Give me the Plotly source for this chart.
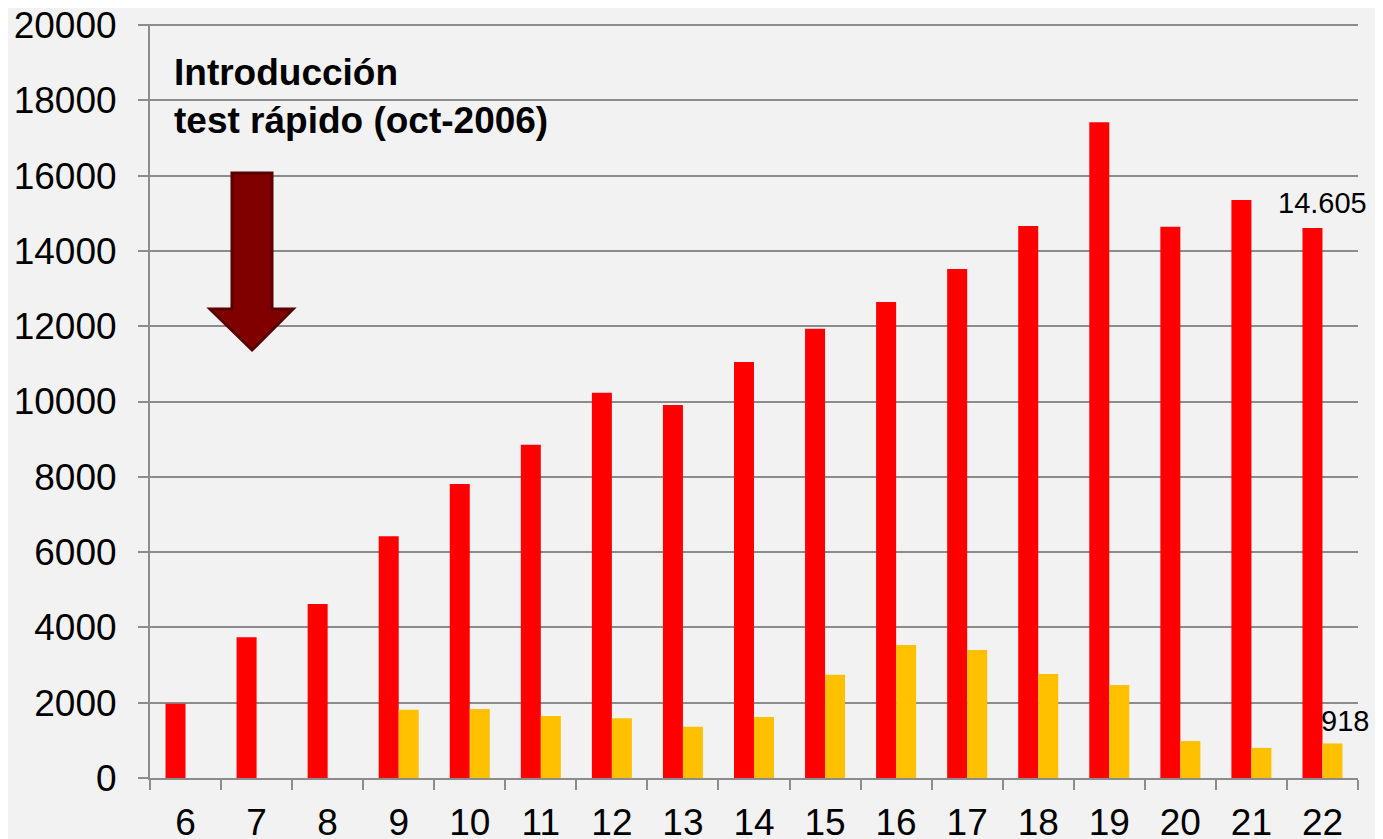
import plotly.graph_objects as go

categories = ["6", "7", "8", "9", "10", "11", "12", "13", "14", "15", "16", "17", "18", "19", "20", "21", "22"]
red_values = [1970, 3740, 4620, 6420, 7810, 8850, 10230, 9910, 11050, 11930, 12640, 13520, 14660, 17420, 14640, 15350, 14605]
orange_values = [None, None, None, 1810, 1830, 1650, 1590, 1360, 1620, 2740, 3530, 3400, 2760, 2470, 980, 800, 918]
y_ticks = [0, 2000, 4000, 6000, 8000, 10000, 12000, 14000, 16000, 18000, 20000]
intro_text = "Introducción<br>test rápido (oct-2006)"

OFF = 8  # page body margin
W, H = 1383 - OFF, 839 - OFF
L, T = 150 - OFF, 25 - OFF
R = W - (1358 - OFF)
B = H - (778 - OFF)
PW, PH = W - L - R, H - T - B
YMAX = 20000


def px(x):
    return (x - OFF - L) / PW


def py(y):
    return (H - B - (y - OFF)) / PH


fig = go.Figure()
fig.add_trace(go.Bar(x=categories, y=red_values, marker=dict(color="#FF0000", line=dict(width=0)), name="A"))
fig.add_trace(go.Bar(x=categories, y=orange_values, marker=dict(color="#FFC000", line=dict(width=0)), name="B"))

axis_col = "#8c8c8c"
fig.update_layout(
    width=W, height=H,
    margin=dict(l=L, r=R, t=T, b=B, autoexpand=False),
    paper_bgcolor="#f2f2f2", plot_bgcolor="#f2f2f2",
    barmode="group", bargap=0.437, bargroupgap=0,
    showlegend=False,
    font=dict(family="Liberation Sans, Arial, sans-serif", color="#000000"),
)
fig.update_yaxes(
    range=[0, YMAX], tickvals=y_ticks, ticktext=[str(v) for v in y_ticks],
    showgrid=True, gridcolor=axis_col, gridwidth=2,
    showline=True, linecolor=axis_col, linewidth=2,
    ticks="outside", ticklen=10, tickcolor=axis_col, tickwidth=2,
    tickfont=dict(size=37), zeroline=False, automargin=False,
    ticklabelstandoff=14, ticklabeloverflow="allow",
)
fig.update_xaxes(
    type="category", tickson="boundaries", range=[-0.5, len(categories) - 0.5],
    showline=True, linecolor=axis_col, linewidth=2,
    ticks="outside", ticklen=10, tickcolor=axis_col, tickwidth=2,
    tickfont=dict(size=37), showgrid=False, automargin=False,
    ticklabelstandoff=11, ticklabeloverflow="allow",
)

# top gridline at the range edge
fig.add_shape(type="line", xref="paper", yref="paper", x0=px(140), x1=1, y0=1, y1=1,
              line=dict(color=axis_col, width=2), layer="above")

last = len(categories) - 1
# data labels for the last category
fig.add_annotation(x=last, y=red_values[-1], text="14.605", showarrow=False,
                   xshift=0, yanchor="bottom", yshift=7, font=dict(size=29))
fig.add_annotation(x=last, y=orange_values[-1], text=str(orange_values[-1]), showarrow=False,
                   xshift=23, yanchor="bottom", yshift=4, font=dict(size=29))

# intro text
fig.add_annotation(xref="paper", yref="paper", x=px(172), y=py(50), xanchor="left", yanchor="top",
                   text="<b>" + intro_text + "</b>", showarrow=False, align="left",
                   font=dict(size=37))

# block arrow
pts = [(232, 173), (272, 173), (272, 309), (293, 309), (252, 350), (210, 309), (232, 309)]
path = "M " + " L ".join(f"{px(a):.5f},{py(b):.5f}" for a, b in pts) + " Z"
fig.add_shape(type="path", xref="paper", yref="paper", path=path,
              fillcolor="#800000", line=dict(color="#5a0000", width=3))

fig.write_html("out.html")
